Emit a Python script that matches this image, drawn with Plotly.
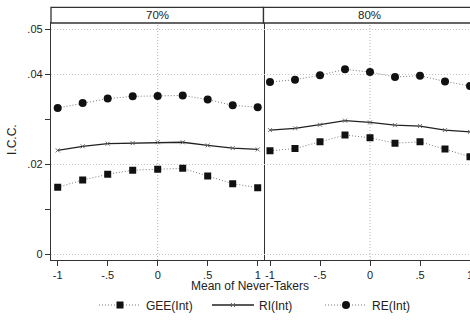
import plotly.graph_objects as go
from plotly.subplots import make_subplots

x_vals = [-1, -0.75, -0.5, -0.25, 0, 0.25, 0.5, 0.75, 1]
panels = ["70%", "80%"]

gee_70 = [0.0149, 0.0165, 0.0178, 0.0187, 0.0189, 0.0191, 0.0174, 0.0157, 0.0148]
ri_70 = [0.0231, 0.0240, 0.0246, 0.0247, 0.0249, 0.0249, 0.0242, 0.0236, 0.0233]
re_70 = [0.0325, 0.0336, 0.0346, 0.0351, 0.0352, 0.0353, 0.0344, 0.0331, 0.0327]

gee_80 = [0.0230, 0.0235, 0.0250, 0.0265, 0.0259, 0.0247, 0.0250, 0.0234, 0.0217]
ri_80 = [0.0276, 0.0280, 0.0288, 0.0297, 0.0293, 0.0287, 0.0285, 0.0276, 0.0272]
re_80 = [0.0383, 0.0388, 0.0398, 0.0411, 0.0405, 0.0394, 0.0397, 0.0384, 0.0374]

series_names = ["GEE(Int)", "RI(Int)", "RE(Int)"]
data = {"70%": [gee_70, ri_70, re_70], "80%": [gee_80, ri_80, re_80]}

x_tickvals = [-1, -0.5, 0, 0.5, 1]
x_ticktext = ["-1", "-.5", "0", ".5", "1"]
y_tickvals = [0, 0.02, 0.04, 0.05]
y_ticktext = ["0", ".02", ".04", ".05"]
y_minor = [0.01, 0.03]

DOT = "1px,2px"
styles = [
    dict(mode="lines+markers", line=dict(color="#7a7a7a", width=1, dash=DOT),
         marker=dict(symbol="square", size=7, color="#111")),
    dict(mode="lines+markers", line=dict(color="#222", width=1.3),
         marker=dict(symbol="x-thin", size=4, color="#666", line=dict(width=1, color="#666"))),
    dict(mode="lines+markers", line=dict(color="#7a7a7a", width=1, dash=DOT),
         marker=dict(symbol="circle", size=8, color="#111")),
]

fig = make_subplots(rows=1, cols=2, shared_yaxes=True, horizontal_spacing=0)

for ci, p in enumerate(panels):
    for si, name in enumerate(series_names):
        fig.add_trace(go.Scatter(x=x_vals, y=data[p][si], name=name,
                                 showlegend=(ci == 0), legendgroup=name,
                                 **styles[si]), row=1, col=ci + 1)

W, H = 470, 320
ml, mr, mt, mb = 51, 0, 23, 60
PH = H - mt - mb
PW = W - ml - mr
split = (263.5 - ml) / PW
TICKFONT = dict(size=11, color="#222")

axis_common = dict(showline=True, linecolor="#333", linewidth=1.3, ticks="outside",
                   ticklen=5, tickcolor="#333", tickvals=x_tickvals, ticktext=x_ticktext,
                   showgrid=False, zeroline=False, tickfont=TICKFONT,
                   automargin=False, ticklabeloverflow="allow")
fig.update_layout(
    xaxis=dict(domain=[0, split], range=[-1.067, 1.058], mirror=True, **axis_common),
    xaxis2=dict(domain=[split, 1], range=[-1.065, 1.0], mirror=True, **axis_common),
    yaxis=dict(range=[-0.00126, 0.0514], showline=True, mirror=True, linecolor="#333",
               linewidth=1.3, ticks="outside", ticklen=5, tickcolor="#333",
               tickvals=y_tickvals, ticktext=y_ticktext, showgrid=True,
               gridcolor="#c4c4c4", griddash=DOT, gridwidth=1, zeroline=False,
               tickfont=TICKFONT, automargin=False,
               minor=dict(tickvals=y_minor, ticks="outside", ticklen=5, tickcolor="#333",
                          showgrid=False)),
    yaxis2=dict(range=[-0.00126, 0.0514], showline=False, showticklabels=False, ticks="",
                tickvals=y_tickvals, showgrid=True, gridcolor="#c4c4c4", griddash=DOT,
                gridwidth=1, zeroline=False, automargin=False),
)

for ci, p in enumerate(panels):
    xr = "x" if ci == 0 else "x2"
    fig.add_vline(x=0, line=dict(color="#b0b0b0", width=1, dash=DOT), row=1, col=ci + 1,
                  layer="below")
    fig.add_shape(type="rect", xref=f"{xr} domain", yref="paper", x0=0,
                  x1=1 if ci == 0 else 1.04, y0=1, y1=1 + 15.7 / PH,
                  line=dict(color="#333", width=1.3), fillcolor="white")
    fig.add_annotation(text=p, xref=f"{xr} domain", yref="paper", x=0.5 if ci == 0 else 0.515,
                       y=1 + 7.8 / PH, showarrow=False,
                       font=dict(size=11.5, color="#222"), yanchor="middle")

fig.add_annotation(text="Mean of Never-Takers", xref="paper", yref="paper",
                   x=(250 - ml) / PW, y=-(286 - (H - mb)) / PH,
                   showarrow=False, yanchor="middle", font=dict(size=12, color="#222"))
fig.add_annotation(text="I.C.C.", xref="paper", yref="paper", x=-(ml - 12) / PW,
                   y=(H - mb - 140) / PH, textangle=-90, showarrow=False,
                   xanchor="center", yanchor="middle", font=dict(size=12, color="#222"))

fig.update_layout(
    width=W, height=H, margin=dict(l=ml, r=mr, t=mt, b=mb, autoexpand=False),
    paper_bgcolor="white", plot_bgcolor="white",
    font=dict(family="Liberation Sans, Arial, sans-serif", size=12, color="#222"),
    legend=dict(orientation="h", xref="container", yref="container", x=94 / W,
                xanchor="left", y=1 - 305 / H, yanchor="middle", itemwidth=42,
                entrywidth=56, entrywidthmode="pixels", font=dict(size=12, color="#222"),
                bgcolor="rgba(0,0,0,0)", tracegroupgap=0),
)

fig.write_html("out.html", config={"displayModeBar": False},
               post_script="document.body.style.margin='0';document.body.style.overflow='hidden';")
